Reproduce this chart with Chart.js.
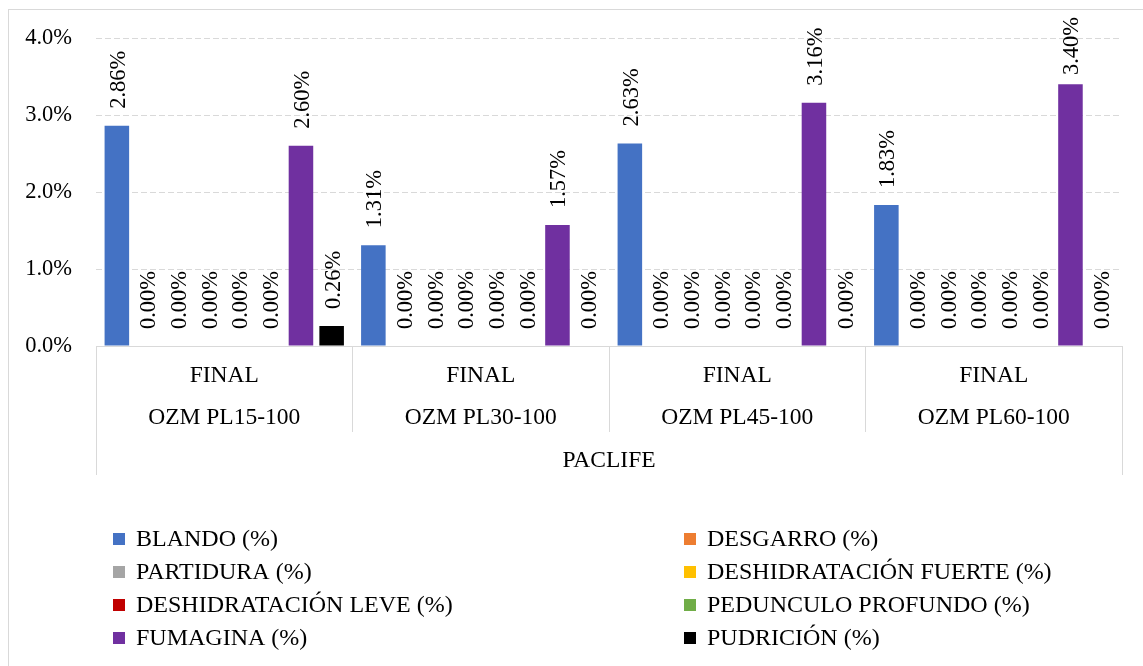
<!DOCTYPE html>
<html>
<head>
<meta charset="utf-8">
<title>PACLIFE – defectos al final</title>
<script src="https://cdn.jsdelivr.net/npm/chart.js@4.4.1/dist/chart.umd.min.js"></script>
<style>
  html, body { margin: 0; padding: 0; background: #ffffff; overflow: hidden; }
  #frame { position: absolute; left: 8px; top: 9px; width: 1200px; height: 700px; border: 1px solid #d9d9d9; }
  #wrap { position: absolute; left: 0; top: 0; width: 1143px; height: 666px; }
</style>
</head>
<body>
<div id="frame"></div>
<div id="wrap"><canvas id="chart"></canvas></div>
<script>
// Category levels of the horizontal axis
const stages = ['FINAL', 'FINAL', 'FINAL', 'FINAL'];
const varieties = ['OZM PL15-100', 'OZM PL30-100', 'OZM PL45-100', 'OZM PL60-100'];
const producer = 'PACLIFE';

// Defect percentages per variety
const blando = [2.86, 1.31, 2.63, 1.83];
const desgarro = [0, 0, 0, 0];
const partidura = [0, 0, 0, 0];
const deshidratacionFuerte = [0, 0, 0, 0];
const deshidratacionLeve = [0, 0, 0, 0];
const pedunculoProfundo = [0, 0, 0, 0];
const fumagina = [2.60, 1.57, 3.16, 3.40];
const pudricion = [0.26, 0, 0, 0];

const seriesNames = [
  'BLANDO (%)', 'DESGARRO (%)', 'PARTIDURA (%)', 'DESHIDRATACIÓN FUERTE (%)',
  'DESHIDRATACIÓN LEVE (%)', 'PEDUNCULO PROFUNDO (%)', 'FUMAGINA (%)', 'PUDRICIÓN (%)'
];
const seriesValues = [
  blando, desgarro, partidura, deshidratacionFuerte,
  deshidratacionLeve, pedunculoProfundo, fumagina, pudricion
];
const seriesColors = [
  '#4472C4', '#ED7D31', '#A5A5A5', '#FFC000',
  '#C00000', '#70AD47', '#7030A0', '#000000'
];

// Value axis ticks (percent)
const yMin = 0, yMax = 4, yStep = 1;

const serif = '"Liberation Serif", "Times New Roman", serif';
Chart.defaults.font.family = serif;
Chart.defaults.color = '#000000';

// Rotated value labels above each bar, kept inside the top margin
const valueLabels = {
  id: 'valueLabels',
  afterDatasetsDraw(chart) {
    const ctx = chart.ctx;
    const limit = chart.chartArea.top - 21;
    ctx.save();
    ctx.font = '22.5px ' + serif;
    ctx.fillStyle = '#000000';
    ctx.textAlign = 'left';
    ctx.textBaseline = 'middle';
    chart.data.datasets.forEach((ds, i) => {
      const meta = chart.getDatasetMeta(i);
      meta.data.forEach((bar, j) => {
        const text = ds.data[j].toFixed(2) + '%';
        const len = ctx.measureText(text).width;
        const start = Math.max(bar.y - 17, limit + len);
        ctx.save();
        ctx.translate(bar.x + 2, start);
        ctx.rotate(-Math.PI / 2);
        ctx.fillText(text, 0, 0);
        ctx.restore();
      });
    });
    ctx.restore();
  }
};

// Two-column legend under the axis
const gridLegend = {
  id: 'gridLegend',
  afterDraw(chart) {
    const ctx = chart.ctx;
    const area = chart.chartArea;
    const base = chart.scales.x2.bottom;
    ctx.save();
    ctx.font = '24px ' + serif;
    ctx.textAlign = 'left';
    ctx.textBaseline = 'middle';
    chart.data.datasets.forEach((ds, i) => {
      const col = i % 2, row = Math.floor(i / 2);
      const bx = area.left + 17 + col * 571;
      const cy = base + 64 + row * 33;
      ctx.fillStyle = ds.backgroundColor;
      ctx.fillRect(bx, cy - 6, 12, 12);
      ctx.fillStyle = '#000000';
      ctx.fillText(ds.label, bx + 23, cy + 1);
    });
    ctx.restore();
  }
};

const labels = stages.map((s, i) => [s, varieties[i]]);

new Chart(document.getElementById('chart'), {
  type: 'bar',
  data: {
    labels: labels,
    datasets: seriesNames.map((name, i) => ({
      label: name,
      data: seriesValues[i],
      backgroundColor: seriesColors[i],
      borderWidth: 0,
      categoryPercentage: 0.957,
      barPercentage: 0.8
    }))
  },
  options: {
    responsive: true,
    maintainAspectRatio: false,
    animation: false,
    layout: { padding: { top: 38, right: 21, bottom: 191, left: 0 } },
    plugins: {
      legend: { display: false },
      tooltip: { enabled: false },
      title: { display: false }
    },
    scales: {
      x: {
        type: 'category',
        position: 'bottom',
        weight: 0,
        grid: { offset: true, drawOnChartArea: false, drawTicks: true, tickLength: 86, color: '#d9d9d9', lineWidth: 1 },
        border: { display: true, color: '#d9d9d9', width: 1 },
        ticks: {
          autoSkip: false, maxRotation: 0, minRotation: 0, padding: -77, color: '#000000',
          font: { family: serif, size: 23.5, lineHeight: '42px' }
        },
        afterFit(s) { s.height = 86; }
      },
      x2: {
        type: 'category',
        position: 'bottom',
        weight: 1,
        labels: [producer],
        offset: true,
        grid: { offset: true, drawOnChartArea: false, drawTicks: true, tickLength: 43, color: '#d9d9d9', lineWidth: 1 },
        border: { display: false },
        ticks: {
          autoSkip: false, maxRotation: 0, minRotation: 0, padding: -28, color: '#000000',
          font: { family: serif, size: 23.5, lineHeight: '28px' }
        },
        afterFit(s) { s.height = 43; }
      },
      y: {
        min: yMin,
        max: yMax,
        ticks: {
          stepSize: yStep,
          padding: 24,
          color: '#000000',
          font: { family: serif, size: 22.5 },
          callback: v => v.toFixed(1) + '%'
        },
        grid: { color: '#d9d9d9', lineWidth: 1, drawTicks: false },
        border: { display: false, dash: [6, 3] },
        afterFit(s) { s.width = 96; }
      }
    }
  },
  plugins: [valueLabels, gridLegend]
});
</script>
</body>
</html>
